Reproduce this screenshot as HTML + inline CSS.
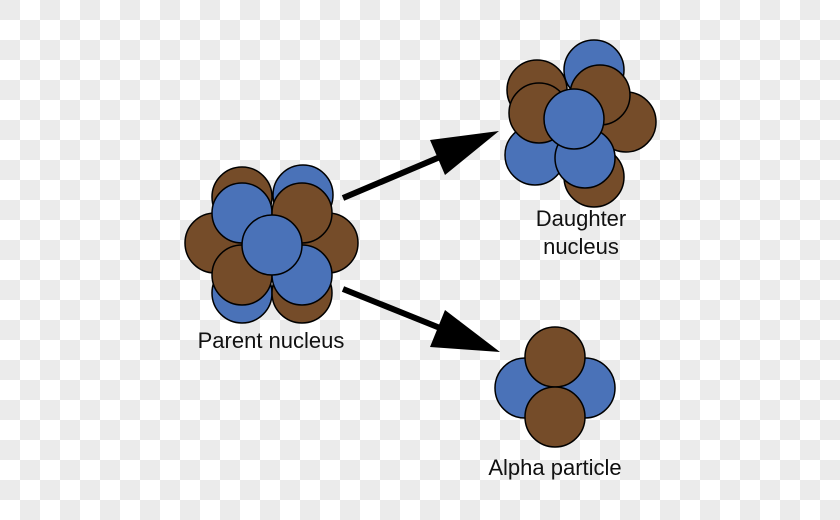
<!DOCTYPE html>
<html><head><style>
html,body{margin:0;padding:0}
body{width:840px;height:520px;overflow:hidden;
background-color:#fff;
background-image:
linear-gradient(45deg,#ebebeb 25%,transparent 25%,transparent 75%,#ebebeb 75%),
linear-gradient(45deg,#ebebeb 25%,transparent 25%,transparent 75%,#ebebeb 75%);
background-size:40px 40px;background-position:20px 0,0 20px;}
svg{position:absolute;left:0;top:0}
text{font-family:"Liberation Sans",sans-serif;font-size:22px;fill:#111}
</style></head><body>
<svg width="840" height="520" viewBox="0 0 840 520">
<g stroke="#000" stroke-width="1.5">
<circle cx="215" cy="243" r="30" fill="#754c29"/>
<circle cx="328" cy="243" r="30" fill="#754c29"/>
<circle cx="242" cy="197" r="30" fill="#754c29"/>
<circle cx="303" cy="195" r="30" fill="#4a72b8"/>
<circle cx="242" cy="293" r="30" fill="#4a72b8"/>
<circle cx="302" cy="293" r="30" fill="#754c29"/>
<circle cx="242" cy="213" r="30" fill="#4a72b8"/>
<circle cx="302" cy="213" r="30" fill="#754c29"/>
<circle cx="242" cy="275" r="30" fill="#754c29"/>
<circle cx="302" cy="275" r="30" fill="#4a72b8"/>
<circle cx="272" cy="245" r="30" fill="#4a72b8"/>
<circle cx="594" cy="70" r="30" fill="#4a72b8"/>
<circle cx="537" cy="90" r="30" fill="#754c29"/>
<circle cx="626" cy="122" r="30" fill="#754c29"/>
<circle cx="535" cy="155" r="30" fill="#4a72b8"/>
<circle cx="594" cy="177" r="30" fill="#754c29"/>
<circle cx="600" cy="95" r="30" fill="#754c29"/>
<circle cx="539" cy="113" r="30" fill="#754c29"/>
<circle cx="585" cy="158" r="30" fill="#4a72b8"/>
<circle cx="574" cy="119" r="30" fill="#4a72b8"/>
<circle cx="525" cy="388" r="30" fill="#4a72b8"/>
<circle cx="585" cy="388" r="30" fill="#4a72b8"/>
<circle cx="555" cy="357" r="30" fill="#754c29"/>
<circle cx="555" cy="417" r="30" fill="#754c29"/>
</g>
<g stroke="#000" stroke-width="6">
<line x1="343" y1="198" x2="440" y2="157"/>
<line x1="343" y1="289" x2="440" y2="328"/>
</g>
<polygon points="499,131 430,140 445,175" fill="#000"/>
<polygon points="500,352 445,310 430,347" fill="#000"/>
<text x="271" y="348" text-anchor="middle">Parent nucleus</text>
<text x="581" y="226" text-anchor="middle">Daughter</text>
<text x="581" y="254" text-anchor="middle">nucleus</text>
<text x="555" y="475" text-anchor="middle">Alpha particle</text>
</svg>
</body></html>
